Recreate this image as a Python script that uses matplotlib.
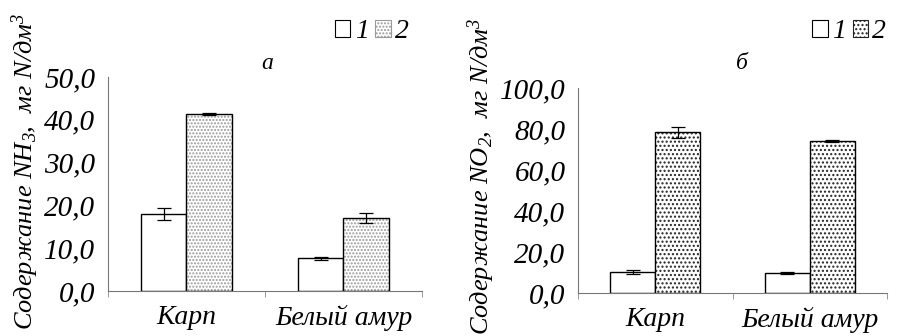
import numpy as np
import matplotlib.pyplot as plt
from matplotlib.patches import Patch

plt.rcParams['font.family'] = ['Liberation Serif', 'DejaVu Serif']
plt.rcParams['font.style'] = 'italic'
plt.rcParams['mathtext.fontset'] = 'custom'
plt.rcParams['mathtext.it'] = 'Liberation Serif:italic'
plt.rcParams['mathtext.rm'] = 'Liberation Serif:italic'
plt.rcParams['mathtext.default'] = 'it'
plt.rcParams['hatch.linewidth'] = 1.0

# data
categories = ['Карп', 'Белый амур']
series_labels = ['1', '2']

nh3_1 = [17.9, 7.6]
nh3_1_err = [1.4, 0.3]
nh3_2 = [41.3, 17.0]
nh3_2_err = [0.2, 1.1]

no2_1 = [10.2, 9.8]
no2_1_err = [1.0, 0.3]
no2_2 = [78.5, 74.1]
no2_2_err = [2.7, 0.5]

nh3_ticks = [0, 10, 20, 30, 40, 50]
no2_ticks = [0, 20, 40, 60, 80, 100]

fnt = dict(family=['Liberation Serif', 'DejaVu Serif'], style='italic')

fig = plt.figure(figsize=(8.97, 3.36), dpi=100)
ax1 = fig.add_axes([0.1204, 0.134, 0.350, 0.637])
ax2 = fig.add_axes([0.6444, 0.128, 0.3445, 0.610])

x = np.arange(len(categories))
w = 0.29


def draw(ax, v1, e1, v2, e2, ticks, hatch, hcolor, title, tpos, lpos):
    ax.bar(x - w / 2, v1, w, color='white', edgecolor='black', linewidth=1.0,
           yerr=e1, error_kw=dict(ecolor='black', elinewidth=0.9, capsize=5, capthick=0.9))
    ax.bar(x + w / 2, v2, w, color='white', edgecolor=hcolor, hatch=hatch, linewidth=0,
           yerr=e2, error_kw=dict(ecolor='black', elinewidth=0.9, capsize=5, capthick=0.9))
    # black outline for hatched bars
    ax.bar(x + w / 2, v2, w, color='none', edgecolor='black', linewidth=1.0)
    ax.set_xlim(-0.5, 1.5)
    ax.set_ylim(ticks[0], ticks[-1])
    ax.set_yticks(ticks)
    ax.set_yticklabels([f'{t:.1f}'.replace('.', ',') for t in ticks], fontsize=21, **fnt)
    ax.set_xticks(x)
    ax.set_xticklabels(categories, fontsize=20, **fnt)
    ax.set_xticks([-0.5, 0.5, 1.5], minor=True)
    ax.tick_params(axis='x', which='major', length=0, pad=10)
    ax.tick_params(axis='x', which='minor', length=4, color='#888888', width=0.6)
    ax.tick_params(axis='y', length=0, pad=9)
    for s in ['top', 'right']:
        ax.spines[s].set_visible(False)
    for s in ['left', 'bottom']:
        ax.spines[s].set_color('#777777')
        ax.spines[s].set_linewidth(0.8)
    fig.text(tpos[0], tpos[1], title, fontsize=17, ha='center', va='center', **fnt)
    handles = [Patch(facecolor='white', edgecolor='black', linewidth=0.8),
               Patch(facecolor='white', edgecolor=hcolor, hatch=hatch, linewidth=0.8)]
    ax.legend(handles, series_labels, loc='center right', bbox_to_anchor=lpos,
              bbox_transform=fig.transFigure,
              ncol=2, frameon=False, prop=dict(size=20, **fnt), handlelength=0.55,
              handleheight=0.55, handletextpad=0.15, columnspacing=0.25, borderaxespad=0)


draw(ax1, nh3_1, nh3_1_err, nh3_2, nh3_2_err, nh3_ticks, '.....', '#999999', 'а',
     (0.298, 0.81), (0.468, 0.905))
draw(ax2, no2_1, no2_1_err, no2_2, no2_2_err, no2_ticks, '....', '#222222', 'б',
     (0.827, 0.81), (1.0, 0.905))

fig.text(0.028, 0.49, 'Содержание NH$_3$,  мг N/дм$^3$', rotation=90,
         ha='center', va='center', fontsize=19, **fnt)
fig.text(0.537, 0.475, 'Содержание NO$_2$,  мг N/дм$^3$', rotation=90,
         ha='center', va='center', fontsize=19, **fnt)

fig.savefig('out.png', dpi=100)
